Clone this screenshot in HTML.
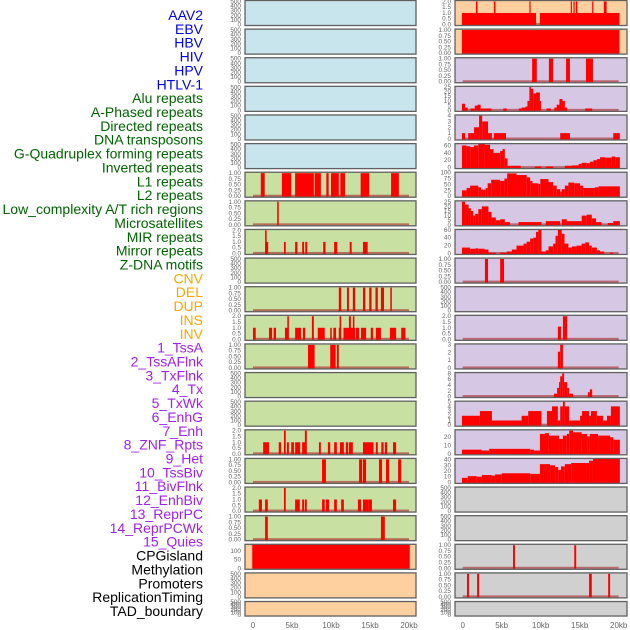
<!DOCTYPE html>
<html><head><meta charset="utf-8"><style>
html,body{margin:0;padding:0;background:#fff;width:630px;height:630px;overflow:hidden}
svg{display:block}
.lab{font-family:"Liberation Sans",sans-serif;font-size:14px}
.tk{font-family:"Liberation Sans",sans-serif;font-size:6.4px;fill:#666}
.ax{font-family:"Liberation Sans",sans-serif;font-size:8px;fill:#666}
</style></head><body>
<svg id="chart" width="630" height="630" viewBox="0 0 630 630"></svg>
<script>
// ---- track labels ----
const trackLabels = ["AAV2","EBV","HBV","HIV","HPV","HTLV-1","Alu repeats","A-Phased repeats","Directed repeats","DNA transposons","G-Quadruplex forming repeats","Inverted repeats","L1 repeats","L2 repeats","Low_complexity A/T rich regions","Microsatellites","MIR repeats","Mirror repeats","Z-DNA motifs","CNV","DEL","DUP","INS","INV","1_TssA","2_TssAFlnk","3_TxFlnk","4_Tx","5_TxWk","6_EnhG","7_Enh","8_ZNF_Rpts","9_Het","10_TssBiv","11_BivFlnk","12_EnhBiv","13_ReprPC","14_ReprPCWk","15_Quies","CPGisland","Methylation","Promoters","ReplicationTiming","TAD_boundary"];
const labelGroups = [6,13,5,15,5];
const xTickValues = [0,5,10,15,20];
const xTickLabels = ["0","5kb","10kb","15kb","20kb"];

// ---- segment data [startKb, endKb, value] ----
const segL6 = [[1.0,1.5,1],[3.7,4.9,1],[5.4,7.8,1],[7.9,8.7,1],[9.4,9.7,1],[10.0,11.0,1],[11.2,11.8,1],[13.8,14.9,1],[17.7,18.7,1]];
const segL7 = [[3.1,3.3,1]];
const segL8 = [[1.55,1.95,1],[1.55,1.75,2],[3.97,4.2,1],[5.4,5.7,1],[6.3,6.55,1],[6.7,6.96,1],[9.0,9.3,1],[10.4,10.8,1],[12.4,12.65,1],[14.1,14.7,1]];
const segL10 = [[11.0,11.3,1],[12.05,12.3,1],[12.8,13.1,1],[14.1,14.4,1],[14.9,15.2,1],[15.7,16.0,1],[16.4,16.8,1],[17.6,17.8,1]];
const segL11 = [[0,0.35,1],[2.05,2.45,1],[2.65,2.95,1],[4.1,4.5,1],[4.4,4.6,2],[5.4,6.15,1],[6.4,6.7,1],[7.55,7.8,2],[8.3,9.2,1],[9.9,10.1,1],[10.3,10.65,1],[11.0,11.3,1],[11.1,11.3,2],[11.6,13.1,1],[12.3,12.55,2],[12.8,13.0,2],[13.2,13.6,1],[13.85,14.5,1],[15.1,15.4,1],[15.75,16.4,1],[17.55,18.35,1],[19.0,19.55,1]];
const segL12 = [[7.05,7.9,1],[9.9,10.6,1],[10.75,11.0,1]];
const segL15 = [[1.3,2.05,1],[3.3,3.6,1],[3.97,4.2,2],[4.35,4.6,1],[4.9,5.25,1],[5.4,6.05,1],[6.3,6.8,1],[6.65,6.9,2],[8.45,8.7,1],[9.6,9.9,1],[10.4,10.75,1],[11.15,11.65,1],[11.9,12.2,1],[12.3,12.8,1],[14.1,15.45,1],[15.75,16.0,1],[16.45,16.75,1],[16.9,17.2,1],[17.95,18.35,1]];
const segL16 = [[8.85,9.35,1],[13.6,14.0,1],[14.1,14.5,1],[16.15,16.55,1],[17.05,17.45,1],[18.6,19.0,1]];
const segL17 = [[0.75,1.15,1],[1.55,1.9,1],[3.97,4.2,2],[5.4,6.0,1],[6.3,6.55,1],[6.65,6.9,1],[8.85,9.2,1],[9.35,9.75,1],[10.4,10.75,1],[11.3,11.65,1],[13.45,13.85,1],[14.1,14.85,1],[14.85,15.25,1],[17.95,18.35,1]];
const segL18 = [[1.55,1.9,1],[16.4,16.9,1]];
const segL19 = [[-0.1,20.1,139]];

const segR0 = [[-0.1,9.4,1],[9.9,20.1,1],[1.7,1.9,2],[4.0,4.2,2],[8.55,8.7,2],[13.85,14.0,2],[14.2,14.35,2],[14.5,14.7,2],[16.6,16.75,2],[18.1,18.45,2]];
const segR1 = [[-0.1,20.1,1]];
const segR2 = [[8.9,9.5,1],[11.05,11.6,1],[13.25,13.75,1],[15.8,16.7,1]];
const segR3 = [[-0.1,0.3,7],[0.3,0.65,3],[1.0,1.55,2],[1.55,1.9,5],[1.9,2.3,6],[2.3,3.7,2],[5.2,5.65,2],[7.2,7.55,2],[7.55,8.05,3],[8.05,8.3,4],[8.3,8.55,10],[8.55,8.75,25],[8.75,9.05,23],[9.05,9.4,18],[9.4,9.9,19],[9.9,10.0,10],[10.75,11.3,2],[11.75,12.05,3],[12.05,12.4,6],[12.4,12.8,12],[12.8,13.1,10],[13.1,13.4,3],[15.7,16.6,2]];
const segR4 = [[-0.1,0.3,1],[0.7,1.45,1],[1.45,2.1,2],[2.1,2.5,4],[2.5,3.25,3],[3.25,3.75,1],[4.0,5.55,1],[12.5,13.75,1],[19.3,20.15,1]];
const segR5 = [[-0.1,0.5,60],[0.5,0.95,58],[0.95,1.45,56],[1.45,2.0,60],[2.0,2.85,64],[2.85,3.5,62],[3.5,3.95,50],[3.95,4.8,40],[4.8,5.1,45],[5.1,5.4,50],[5.4,5.75,25],[5.75,7.45,5],[9.25,10.1,3],[10.65,11.6,3],[13.1,14.0,5],[14.0,14.85,6],[14.85,15.25,10],[15.25,15.9,13],[15.9,16.3,12],[16.3,16.75,16],[16.75,17.2,20],[17.2,17.6,23],[17.6,18.25,28],[18.25,19.1,27],[19.1,19.55,30],[19.55,20.15,28]];
const segR6 = [[-0.1,0.5,25],[0.5,0.95,35],[0.95,2.0,45],[2.0,2.35,38],[2.35,2.95,28],[2.95,3.2,35],[3.2,3.65,55],[3.65,4.8,70],[4.8,5.35,65],[5.35,5.7,75],[5.7,6.9,97],[6.9,8.2,90],[8.2,8.65,80],[8.65,8.95,65],[8.95,9.7,55],[9.7,9.95,52],[9.95,11.0,73],[11.0,11.6,60],[11.6,12.05,45],[12.05,12.5,30],[12.5,12.7,20],[12.7,13.1,30],[13.1,13.55,45],[13.55,14.3,58],[14.3,15.05,55],[15.05,15.45,45],[15.45,16.95,35],[16.95,17.4,38],[17.4,20.15,42]];
const segR7 = [[-0.1,0.3,25],[0.3,0.75,22],[0.75,1.05,18],[1.05,1.35,15],[1.35,1.6,10],[1.6,2.0,12],[2.0,2.45,17],[2.45,3.3,20],[3.3,3.7,14],[3.7,4.25,8],[4.25,4.8,5],[4.8,5.4,6],[5.4,6.05,3],[7.15,10.1,3],[10.65,12.5,4],[12.7,13.35,6],[13.35,15.25,4],[15.25,15.9,10],[15.9,16.55,11],[16.55,17.1,7],[17.1,17.8,3],[18.6,19.3,2],[19.3,20.15,4]];
const segR8 = [[-0.1,0.95,15],[0.95,1.6,12],[1.6,2.0,13],[2.0,2.8,12],[2.8,3.3,10],[3.3,4.25,2],[4.8,5.65,2],[5.65,6.3,5],[6.3,6.9,10],[6.9,7.8,20],[7.8,8.2,25],[8.2,8.65,30],[8.65,9.05,38],[9.05,9.4,40],[9.4,9.7,55],[9.7,10.1,60],[10.1,10.65,5],[10.65,11.0,8],[11.0,11.6,18],[11.6,11.9,25],[11.9,12.2,45],[12.2,12.7,60],[12.7,13.05,50],[13.05,13.55,25],[13.55,14.0,15],[14.0,14.6,18],[14.6,15.25,20],[15.25,15.7,25],[15.7,16.2,28],[16.2,16.55,20],[16.55,17.2,15],[17.2,17.6,8],[17.6,18.15,5],[18.9,19.3,2]];
const segR9 = [[2.85,3.25,1],[4.8,5.3,1]];
const segR11 = [[12.2,12.6,1.1],[12.85,13.4,2]];
const segR12 = [[12.2,12.5,2.1],[12.5,12.85,3]];
const segR13 = [[11.7,12.1,1],[12.1,12.35,3],[12.35,12.5,5],[12.5,12.75,7],[12.75,13.0,8],[13.0,13.4,5],[13.4,13.65,3],[13.65,14.15,1],[16.05,16.3,1.5],[16.3,16.6,2.5]];
const segR14 = [[-0.1,2.2,2],[2.2,3.75,3],[3.75,7.55,1],[7.55,8.4,2],[8.4,10.1,3],[10.8,11.45,3],[11.45,12.2,4],[12.2,12.5,1],[12.5,12.85,4],[12.85,13.1,5],[13.1,13.65,4],[13.65,15.05,1],[15.05,15.3,2],[15.3,16.2,3],[16.2,16.45,2],[16.45,17.2,3],[17.2,18.0,2],[18.0,18.5,1],[18.5,19.0,2],[19.0,20.15,4]];
const segR15 = [[-0.1,2.45,5],[2.45,3.4,4],[3.4,8.65,6],[8.65,9.15,5],[9.15,9.9,4],[9.9,10.55,24],[10.55,11.05,25],[11.05,12.35,22],[12.35,12.85,18],[12.85,13.35,22],[13.35,13.65,24],[13.65,14.15,28],[14.15,15.25,26],[15.25,15.95,24],[15.95,16.3,21],[16.3,17.35,24],[17.35,18.9,22],[18.9,19.3,20],[19.3,20.15,17]];
const segR16 = [[-0.1,0.65,8],[0.65,1.8,11],[1.8,2.45,10],[2.45,3.7,13],[3.7,4.15,12],[4.15,5.0,14],[5.0,8.65,16],[8.65,9.9,15],[9.9,11.2,32],[11.2,11.85,30],[11.85,12.25,27],[12.25,12.6,22],[12.6,13.1,28],[13.1,13.9,32],[13.9,16.2,34],[16.2,16.7,38],[16.7,20.15,41]];
const segR19 = [[6.45,6.7,1],[14.3,14.55,1]];
const segR20 = [[0.55,0.8,1],[1.85,2.1,1],[16.2,16.55,1],[18.65,18.9,1]];

// axis presets
const ticks500 = [0,100,200,300,400,500];
const ticks1 = [0,0.25,0.5,0.75,1];
const ticks2 = [0,0.5,1,1.5,2];

const BG = {b:"#c8e4ec",g:"#c8e0a2",o:"#fed09f",p:"#d6c8e4",k:"#d0d0d0"};
const panels = [
 [0,0,"b",520,ticks500,0,null],[0,1,"b",520,ticks500,0,null],[0,2,"b",520,ticks500,0,null],[0,3,"b",520,ticks500,0,null],[0,4,"b",520,ticks500,0,null],[0,5,"b",520,ticks500,0,null],
 [0,6,"g",1.04,ticks1,2,segL6],[0,7,"g",1.04,ticks1,2,segL7],[0,8,"g",2.08,ticks2,1,segL8],[0,9,"g",520,ticks500,0,null],[0,10,"g",1.04,ticks1,2,segL10],[0,11,"g",2.08,ticks2,1,segL11],[0,12,"g",1.04,ticks1,2,segL12],[0,13,"g",520,ticks500,0,null],[0,14,"g",520,ticks500,0,null],[0,15,"g",2.08,ticks2,1,segL15],[0,16,"g",1.04,ticks1,2,segL16],[0,17,"g",2.08,ticks2,1,segL17],[0,18,"g",1.04,ticks1,2,segL18],
 [0,19,"o",139,[0,50,100],0,segL19],[0,20,"o",520,ticks500,0,null],[0,21,"o",520,ticks500,0,null],
 [1,0,"o",2.08,ticks2,1,segR0],[1,1,"o",1.04,ticks1,2,segR1],[1,2,"p",1.04,ticks1,2,segR2],[1,3,"p",25.5,[0,5,10,15,20,25],0,segR3],[1,4,"p",4.1,[0,1,2,3,4],0,segR4],[1,5,"p",65,[0,20,40,60],0,segR5],[1,6,"p",102,[0,25,50,75,100],0,segR6],[1,7,"p",26,[0,5,10,15,20,25],0,segR7],[1,8,"p",61,[0,20,40,60],0,segR8],[1,9,"p",1.04,ticks1,2,segR9],[1,10,"p",520,ticks500,0,null],[1,11,"p",2.08,ticks2,1,segR11],[1,12,"p",3.1,[0,1,2,3],0,segR12],[1,13,"p",8.3,[0,2,4,6,8],0,segR13],[1,14,"p",5.1,[0,1,2,3,4,5],0,segR14],[1,15,"p",29,[0,10,20],0,segR15],[1,16,"p",42,[0,10,20,30,40],0,segR16],
 [1,17,"k",520,ticks500,0,null],[1,18,"k",520,ticks500,0,null],[1,19,"k",1.04,ticks1,2,segR19],[1,20,"k",1.04,ticks1,2,segR20],[1,21,"k",520,ticks500,0,null]
];

const NS="http://www.w3.org/2000/svg";
const svg=document.getElementById("chart");
function mk(tag,attrs,parent){const e=document.createElementNS(NS,tag);for(const k in attrs)e.setAttribute(k,attrs[k]);(parent||svg).appendChild(e);return e;}
const colX=[245,455], colW=[171,172], zeroX=[253,462.7], kbPx=7.8;
function xScale(col,kb){return zeroX[col]+kb*kbPx;}
function rowTop(r){return 0.5+r*28.62;}
function rowH(r){return r===21?14.5:25;}

const labColors=["#0000ee","#006400","#ffa500","#a020f0","#000000"];
let li=0;
labelGroups.forEach((n,g)=>{for(let j=0;j<n;j++){const t=mk("text",{x:203,y:15+li*13.86+5,"text-anchor":"end",class:"lab",fill:labColors[g]});


t.textContent=trackLabels[li];li++;}});

panels.forEach(p=>{
 const [col,row,bg,ymax,tks,dec,segs]=p;
 const top=rowTop(row),h=rowH(row),left=colX[col],w=colW[col];
 const g=mk("g",{});
 
 
 const bgR=mk("rect",{x:left,y:top,width:w,height:h,fill:BG[bg]},g);
 
 
 const y0=top+h-1, sc=(h-1)/ymax;
 const yS=v=>y0-v*sc;
 if(segs){
  const base=mk("rect",{x:xScale(col,0),y:y0-1.5,width:20*kbPx,height:2,fill:"rgba(170,50,50,0.65)"},g);
  
  
  segs.forEach(s=>{
   const x1=xScale(col,s[0]),x2=xScale(col,s[1]);
   const yt=Math.max(top,yS(s[2]));
   const r=mk("rect",{x:x1,y:yt,width:Math.max(1.2,x2-x1),height:y0-yt+0.5,fill:"#ff0000"},g);
   
   
  });
 }
 const br=mk("rect",{x:left,y:top,width:w,height:h,fill:"none",stroke:"#606060","stroke-width":1.3},g);
 
 
 tks.forEach(v=>{
  const t=mk("text",{x:left-4,y:Math.min(top+h+2,yS(v))+2,"text-anchor":"end",class:"tk"},g);
  
  
  t.textContent=v.toFixed(dec);
 });
});

[0,1].forEach(col=>{xTickValues.forEach((v,i)=>{
 const t=mk("text",{x:xScale(col,v),y:628,"text-anchor":"middle",class:"ax"});
 
 
 t.textContent=xTickLabels[i];
});});
</script>
</body></html>
